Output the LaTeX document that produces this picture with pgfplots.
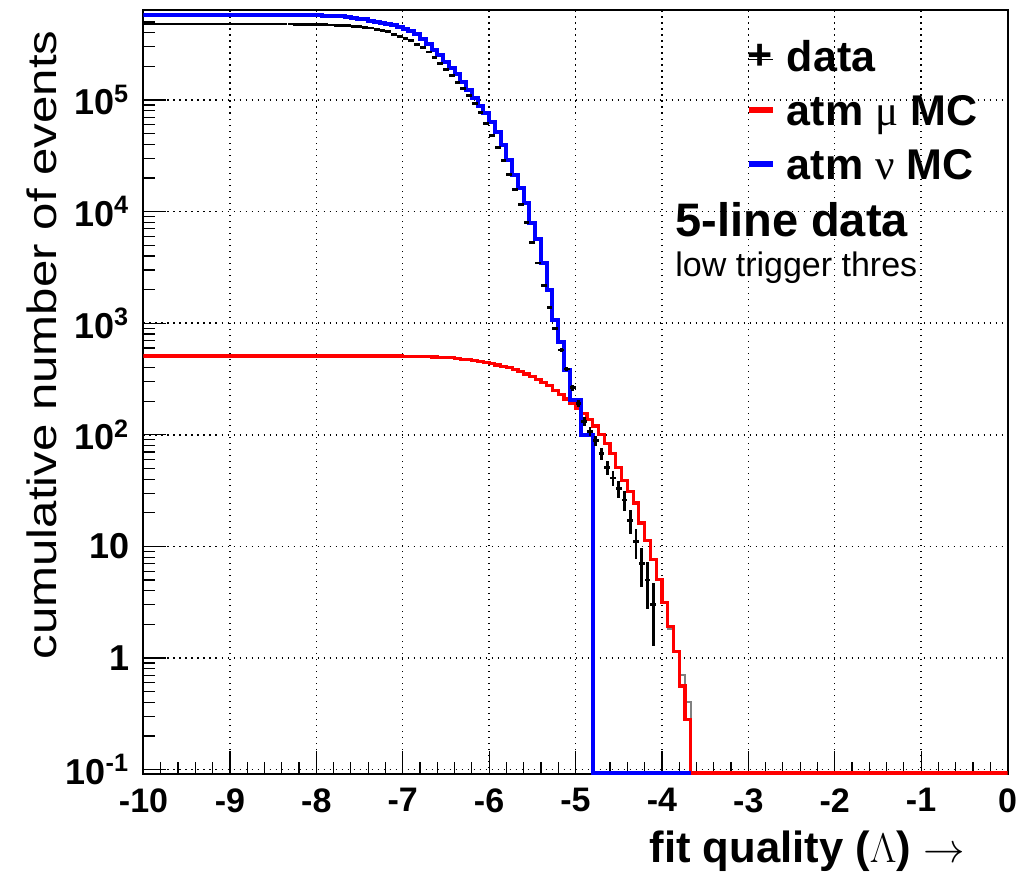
\documentclass[border=0pt]{standalone}
\usepackage{fontspec}
\setmainfont{Liberation Sans}
\newfontfamily\greekserif{Liberation Serif}
\usepackage{graphicx}
\usepackage{pgfplots}
\usepackage{pgfplotstable}
\pgfplotsset{compat=1.18}

\newcommand{\legfont}{\fontsize{21.5}{24}\selectfont\bfseries}

% atm nu MC (blue), bin left edges, bin width 1/15
\pgfplotstableread{
x y
-10 575400
-8.0 571500
-7.9333 570200
-7.8667 567500
-7.8 564900
-7.7333 559800
-7.6667 554600
-7.6 547000
-7.5333 537000
-7.4667 527200
-7.4 515200
-7.3333 504700
-7.2667 492000
-7.2 478600
-7.1333 465600
-7.0667 451900
-7.0 436500
-6.9333 416900
-6.8667 389000
-6.8 354800
-6.7333 316200
-6.6667 281800
-6.6 251200
-6.5333 218800
-6.4667 195000
-6.4 169800
-6.3333 144500
-6.2667 123000
-6.2 104700
-6.1333 89100
-6.0667 75900
-6.0 63100
-5.9333 51300
-5.8667 39800
-5.8 28800
-5.7333 21400
-5.6667 16200
-5.6 12000
-5.5333 7940
-5.4667 5620
-5.4 3470
-5.3333 2000
-5.2667 1070
-5.2 676
-5.1333 380
-5.0667 204
-5.0 204
-4.9333 100
-4.8667 100
-4.8 0.093
-3.6667 0.093
}\bluetable

% atm mu MC (red), bin left edges
\pgfplotstableread{
x y
-10 507
-7.0 505
-6.9333 504
-6.8667 502
-6.8 501
-6.7333 500
-6.6667 498
-6.6 495
-6.5333 492
-6.4667 489
-6.4 483
-6.3333 476
-6.2667 470
-6.2 462
-6.1333 452
-6.0667 442
-6.0 432
-5.9333 422
-5.8667 409
-5.8 398
-5.7333 385
-5.6667 367
-5.6 351
-5.5333 331
-5.4667 313
-5.4 295
-5.3333 275
-5.2667 251
-5.2 229
-5.1333 209
-5.0667 191
-5.0 174
-4.9333 155
-4.8667 138
-4.8 120
-4.7333 100
-4.6667 83.2
-4.6 67.6
-4.5333 51.3
-4.4667 38.9
-4.4 30.9
-4.3333 24.5
-4.2667 16.2
-4.2 11.2
-4.1333 7.59
-4.0667 5.01
-4.0 3.16
-3.9333 1.91
-3.8667 1.15
-3.8 0.56
-3.7333 0.28
-3.6667 0.093
0 0.093
}\redtable

% grey companion histogram (tail)
\pgfplotstableread{
x y
-4.4 30.9
-4.3333 24.5
-4.2667 16.2
-4.2 11.2
-4.1333 7.59
-4.0667 5.01
-4.0 3.16
-3.9333 1.8
-3.8667 1.15
-3.8 0.71
-3.7333 0.40
-3.6667 0.093
}\greytable

% data, bin centres, x error = half bin, y error = sqrt(N)
\pgfplotstableread{
x y ex ey
-9.9667 478600 0.0333 692
-9.9 478600 0.0333 692
-9.8333 478600 0.0333 692
-9.7667 478600 0.0333 692
-9.7 478600 0.0333 692
-9.6333 478600 0.0333 692
-9.5667 478600 0.0333 692
-9.5 478600 0.0333 692
-9.4333 478600 0.0333 692
-9.3667 478600 0.0333 692
-9.3 478600 0.0333 692
-9.2333 478600 0.0333 692
-9.1667 478600 0.0333 692
-9.1 478600 0.0333 692
-9.0333 478600 0.0333 692
-8.9667 478600 0.0333 692
-8.9 478600 0.0333 692
-8.8333 478600 0.0333 692
-8.7667 478600 0.0333 692
-8.7 478600 0.0333 692
-8.6333 478600 0.0333 692
-8.5667 478600 0.0333 692
-8.5 478600 0.0333 692
-8.4333 478600 0.0333 692
-8.3667 478600 0.0333 692
-8.3 478600 0.0333 692
-8.2333 477500 0.0333 691
-8.1667 476400 0.0333 690
-8.1 475300 0.0333 689
-8.0333 474200 0.0333 689
-7.9667 473200 0.0333 688
-7.9 471000 0.0333 686
-7.8333 468800 0.0333 685
-7.7667 466700 0.0333 683
-7.7 464500 0.0333 682
-7.6333 461300 0.0333 679
-7.5667 458100 0.0333 677
-7.5 454000 0.0333 674
-7.4333 448700 0.0333 670
-7.3667 441600 0.0333 665
-7.3 431500 0.0333 657
-7.2333 418800 0.0333 647
-7.1667 407400 0.0333 638
-7.1 389000 0.0333 624
-7.0333 371500 0.0333 609
-6.9667 354800 0.0333 596
-6.9 338800 0.0333 582
-6.8333 316200 0.0333 562
-6.7667 295100 0.0333 543
-6.7 269200 0.0333 519
-6.6333 239900 0.0333 490
-6.5667 213800 0.0333 462
-6.5 186200 0.0333 432
-6.4333 166000 0.0333 407
-6.3667 144500 0.0333 380
-6.3 125900 0.0333 355
-6.2333 109600 0.0333 331
-6.1667 93300 0.0333 305
-6.1 77600 0.0333 279
-6.0333 61700 0.0333 248
-5.9667 47900 0.0333 219
-5.9 37200 0.0333 193
-5.8333 28800 0.0333 170
-5.7667 21400 0.0333 146
-5.7 15850 0.0333 126
-5.6333 11480 0.0333 107
-5.5667 7943 0.0333 89.1
-5.5 5248 0.0333 72.4
-5.4333 3467 0.0333 58.9
-5.3667 2188 0.0333 46.8
-5.3 1380 0.0333 37.1
-5.2333 891 0.0333 29.8
-5.1667 575 0.0333 24.0
-5.1 389 0.0333 19.7
-5.0333 263 0.0333 16.2
-4.9667 191 0.0333 13.8
-4.9 132 0.0333 11.5
-4.8333 107 0.0333 10.3
-4.7667 89 0.0333 9.43
-4.7 68 0.0333 8.25
-4.6333 51 0.0333 7.14
-4.5667 41 0.0333 6.40
-4.5 33 0.0333 5.74
-4.4333 26 0.0333 5.10
-4.3667 17 0.0333 4.12
-4.3 11 0.0333 3.32
-4.2333 7 0.0333 2.65
-4.1667 5 0.0333 2.24
-4.1 3 0.0333 1.73
}\datatable

\begin{document}
\begin{tikzpicture}
\path[use as bounding box] (-71.75pt,-50pt) rectangle (436.25pt,387pt);
\begin{axis}[
  at={(0pt,0pt)}, anchor=south west,
  scale only axis, width=432pt, height=382pt,
  xmin=-10, xmax=0, ymode=log, ymin=0.0912, ymax=6.4e5,
  xtick={-10,-9,-8,-7,-6,-5,-4,-3,-2,-1,0},
  xticklabels={-10,-9,-8,-7,-6,-5,-4,-3,-2,-1,0},
  minor x tick num=4,
  ytick={0.1,1,10,100,1000,10000,100000},
  yticklabels={10\textsuperscript{-1},1,10,10\textsuperscript{2},10\textsuperscript{3},10\textsuperscript{4},10\textsuperscript{5}},
  minor ytick={0.2,0.3,0.4,0.5,0.6,0.7,0.8,0.9,2,3,4,5,6,7,8,9,20,30,40,50,60,70,80,90,200,300,400,500,600,700,800,900,2000,3000,4000,5000,6000,7000,8000,9000,20000,30000,40000,50000,60000,70000,80000,90000,200000,300000,400000,500000,600000},
  tick pos=left,
  tick align=inside,
  major tick length=11.5pt, minor tick length=6pt,
  tick style={black, line width=0.6pt},
  grid=major,
  major grid style={black, line width=0.75pt, dash pattern=on 0.75pt off 2.25pt},
  axis line style={black, line width=1pt},
  xticklabel style={font=\fontsize{17}{18}\selectfont\bfseries, inner sep=0pt, yshift=-7pt},
  yticklabel style={font=\fontsize{18}{19}\selectfont\bfseries, inner sep=0pt, xshift=-7pt},
  legend style={draw=none, fill=none, at={(0.6973,0.9585)}, anchor=north west,
    inner sep=0pt, outer sep=0pt, row sep=7pt, column sep=4.5pt, font=\legfont,
    nodes={inner sep=1pt, text height=14pt, text depth=4pt}},
  legend cell align=left,
]
\addplot[forget plot, const plot mark left, gray, line width=1pt] table {\greytable};
\addplot[forget plot, const plot mark left, red, line width=1.6pt] table {\redtable};
\addplot[forget plot, const plot mark left, blue, line width=2pt] table {\bluetable};
\addplot[forget plot, draw=none, no markers,
  error bars/.cd, x dir=both, x explicit, y dir=both, y explicit, error mark=none,
  error bar style={draw=black, line width=1.4pt}]
  table[x=x, y=y, x error=ex, y error=ey] {\datatable};

\addlegendimage{legend image code/.code={\path (0pt,1pt) -- (12pt,1pt);\node[anchor=base west, inner sep=0pt, text height={}, text depth={}, font=\legfont] at (-0.5pt,-4pt) {+};}}
\addlegendentry{data}
\addlegendimage{legend image code/.code={\draw[red, line width=3pt] (0pt,3pt) -- (12pt,3pt);}}
\addlegendentry{atm {\greekserif\mdseries μ} MC}
\addlegendimage{legend image code/.code={\draw[blue, line width=3pt] (0pt,3pt) -- (12pt,3pt);}}
\addlegendentry{atm {\greekserif\mdseries ν} MC}
\end{axis}
\node[anchor=base west, font=\fontsize{23.5}{26}\selectfont\bfseries, inner sep=0pt] at (265.75pt,268.65pt) {5-line data};
\node[anchor=base west, font=\fontsize{17}{20}\selectfont, inner sep=0pt] at (265.75pt,248.65pt) {low trigger thres};
\node[anchor=base east, font=\fontsize{21.8}{24}\selectfont\bfseries, inner sep=0pt] at (410.75pt,-44pt) {fit quality ($\Lambda$) $\rightarrow$};
\node[rotate=90, anchor=base, font=\fontsize{20.5}{24}\selectfont, inner sep=0pt] at (-43.5pt,214.5pt) {\scalebox{1.2}[1]{cumulative number of events}};
\end{tikzpicture}
\end{document}
